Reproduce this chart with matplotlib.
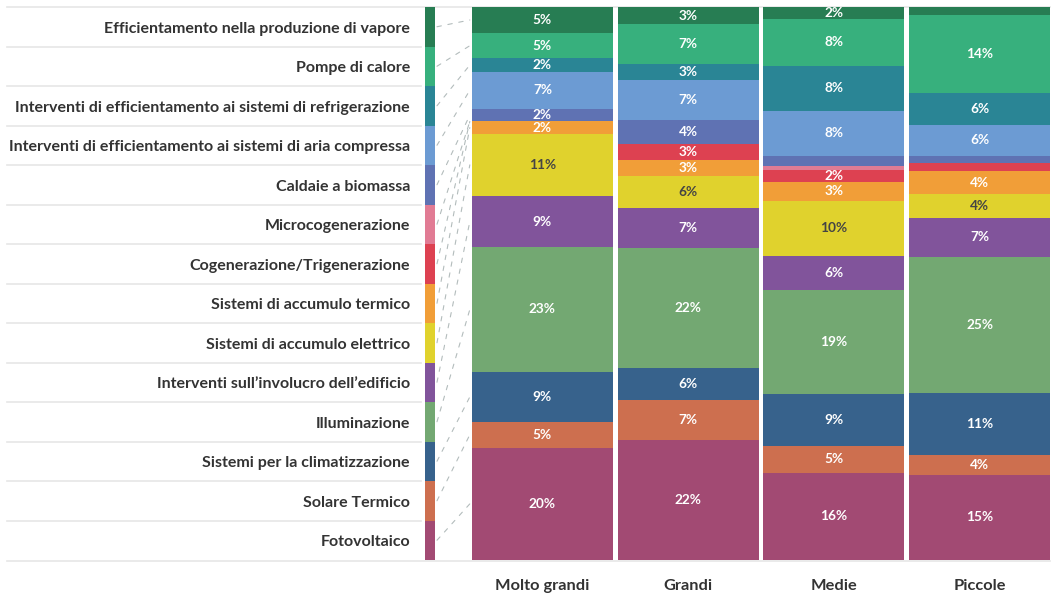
import numpy as np
import matplotlib
matplotlib.use("Agg")
import matplotlib.pyplot as plt
from matplotlib.patches import ConnectionPatch

plt.rcParams['font.family'] = ['Lato', 'DejaVu Sans']

# categories listed top to bottom, same order as the stack
categories = [
    "Efficientamento nella produzione di vapore",
    "Pompe di calore",
    "Interventi di efficientamento ai sistemi di refrigerazione",
    "Interventi di efficientamento ai sistemi di aria compressa",
    "Caldaie a biomassa",
    "Microcogenerazione",
    "Cogenerazione/Trigenerazione",
    "Sistemi di accumulo termico",
    "Sistemi di accumulo elettrico",
    "Interventi sull\u2019involucro dell\u2019edificio",
    "Illuminazione",
    "Sistemi per la climatizzazione",
    "Solare Termico",
    "Fotovoltaico",
]
colors = ["#277d53", "#37b07d", "#2a8595", "#6c9bd3", "#5f72b3", "#e17b94",
          "#dd4151", "#f19e38", "#e0d22d", "#81549b", "#73a872", "#37628c",
          "#cd6f4f", "#a24a73"]

groups = ["Molto grandi", "Grandi", "Medie", "Piccole"]

# share (%) of each category, one list per company size
molto_grandi = [4.7, 4.6, 2.4, 6.7, 2.3, 0.0, 0.0, 2.2, 11.3, 9.2, 22.6, 9.0, 4.7, 20.3]
grandi = [3.1, 7.2, 2.9, 7.2, 4.3, 0.0, 2.9, 2.9, 5.8, 7.2, 21.8, 5.8, 7.2, 21.7]
medie = [2.2, 8.4, 8.2, 8.1, 1.8, 0.7, 2.2, 3.4, 10.0, 6.2, 18.7, 9.4, 4.9, 15.8]
piccole = [1.4, 14.1, 5.8, 5.6, 1.3, 0.0, 1.4, 4.3, 4.2, 7.1, 24.6, 11.2, 3.6, 15.4]

data = np.array([molto_grandi, grandi, medie, piccole])

W, H = 1055, 596
fig = plt.figure(figsize=(W / 100, H / 100), dpi=100)
text_col = "#333333"
grid_col = "#e6e6e6"

top_px, bot_px = 7, 560
bar_left, bar_right = 472, 1050

# legend panel on the left, x in pixel units
lax = fig.add_axes([0, 1 - bot_px / H, bar_left / W, (bot_px - top_px) / H])
lax.set_xlim(0, bar_left)
lax.set_ylim(len(categories), 0)
lax.axis("off")

# bar panel
step_px = 146
width = 141 / step_px
bax = fig.add_axes([bar_left / W, 1 - bot_px / H, (bar_right - bar_left) / W, (bot_px - top_px) / H])
bax.set_xlim(-width / 2, len(groups) - 1 + width / 2)
bax.set_ylim(100, 0)
bax.axis("off")

# full-width baseline and top rule
for yy in (top_px, bot_px + 0.5):
    fig.add_artist(plt.Line2D([7 / W, bar_right / W], [1 - yy / H] * 2,
                              color=grid_col, lw=1.2, zorder=0))

for i, (name, c) in enumerate(zip(categories, colors)):
    lax.barh(i + 0.5, 10, left=425, height=1.0, color=c, linewidth=0)
    lax.text(410, i + 0.55, name, ha="right", va="center", fontsize=11.5,
             fontweight="bold", color=text_col)
    if i > 0:
        lax.plot([7, 421], [i, i], color=grid_col, lw=1.2)

x = np.arange(len(groups))
bottoms = np.zeros(len(groups))
for j, c in enumerate(colors):
    vals = data[:, j]
    bax.bar(x, vals, bottom=bottoms, width=width, color=c, linewidth=0)
    for k in range(len(groups)):
        v = vals[k]
        if v >= 2.0:
            tc = "#444444" if c == "#e0d22d" else "white"
            bax.text(x[k], bottoms[k] + v / 2, f"{v:.0f}%", ha="center", va="center",
                     fontsize=9.8, fontweight="bold", color=tc)
    # dashed leader from legend swatch to the first bar's segment
    con = ConnectionPatch(xyA=(437, j + 0.5), coordsA=lax.transData,
                          xyB=(-width / 2 - 0.015, bottoms[0] + vals[0] / 2), coordsB=bax.transData,
                          color="#b3bcbc", lw=0.8, linestyle=(0, (4, 6)))
    fig.add_artist(con)
    bottoms += vals

for k, g in enumerate(groups):
    bax.text(x[k], 104.7, g, ha="center", va="center", fontsize=11.8,
             fontweight="bold", color=text_col, clip_on=False)

fig.savefig("out.png", dpi=100)
